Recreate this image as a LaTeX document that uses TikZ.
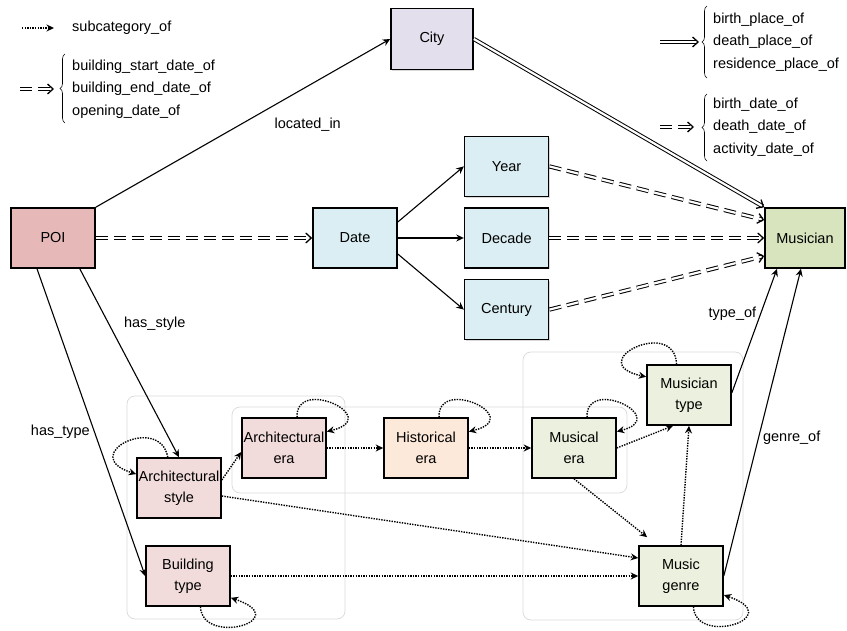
\documentclass[tikz,border=0pt]{standalone}
\usepackage{fontspec}
\setmainfont{Liberation Sans}
\usetikzlibrary{arrows.meta,positioning,shadows,decorations.pathreplacing}

\definecolor{poired}{HTML}{E6B9B8}
\definecolor{citylila}{HTML}{E4DFEC}
\definecolor{dateblue}{HTML}{DAEEF3}
\definecolor{musgreen}{HTML}{D7E4BD}
\definecolor{archpink}{HTML}{F2DCDB}
\definecolor{histpeach}{HTML}{FDE9D9}
\definecolor{musicpale}{HTML}{EBF1DE}

\begin{document}
\begin{tikzpicture}[
  x=1pt, y=-1pt,
  font=\fontsize{14.5}{21}\selectfont,
  >={Stealth[length=7.5pt,width=7pt]},
  box/.style={draw, line width=1.6pt, minimum width=84pt, minimum height=60pt,
              inner sep=1pt, align=center,
              drop shadow={shadow xshift=1.2pt, shadow yshift=-1.2pt, opacity=0.3}},
  rel/.style={->, line width=1.1pt},
  sub/.style={->, line width=1.4pt, dash pattern=on 1.4pt off 1.2pt},
  dbl/.style={double, double distance=2.2pt, line width=1pt,
              -{Straight Barb[length=5.5pt,width=10pt,line width=1.3pt]}},
  dbldash/.style={dbl, dash pattern=on 12pt off 6pt},
  grp/.style={draw=black!15, line width=0.7pt, rounded corners=8pt},
  lbl/.style={inner sep=1pt},
  legend/.style={align=left, anchor=west, inner sep=0pt,
                 font=\fontsize{14.5}{22.5}\selectfont}
]
\useasboundingbox (0,0) rectangle (847,631);

% Groups
\draw[grp] (127,396) rectangle (345,619);
\draw[grp] (232,407) rectangle (627,493);
\draw[grp] (523,352) rectangle (743,620);

% Nodes
\node[box, fill=poired] (poi) at (53,238) {POI};
\node[box, fill=citylila, minimum width=82pt, minimum height=61pt] (city) at (432,39) {City};
\node[box, fill=dateblue] (date) at (355,238) {Date};
\node[box, fill=dateblue, right=66pt of date] (decade) {Decade};
\node[box, fill=dateblue, above=10pt of decade] (year) {Year};
\node[box, fill=dateblue, below=10pt of decade] (century) {Century};
\node[box, fill=musgreen, minimum width=80pt] (musician) at (805,238) {Musician};

\node[box, fill=archpink] (astyle) at (179,488) {Architectural\\style};
\node[box, fill=archpink] (aera) at (284,448) {Architectural\\era};
\node[box, fill=histpeach] (herae) at (426,448) {Historical\\era};
\node[box, fill=musicpale] (muera) at (574,448) {Musical\\era};
\node[box, fill=musicpale] (mutype) at (689,395) {Musician\\type};
\node[box, fill=musicpale] (mugenre) at (681,576) {Music\\genre};
\node[box, fill=archpink] (btype) at (188,576) {Building\\type};

% Relations
\draw[rel] (poi.north east) -- node[lbl, pos=0.72, below=30pt] {located\_in} (city.west);
\draw[rel] ([xshift=-16pt]poi.south east) -- node[lbl, pos=0.29, right=14pt] {has\_style} (astyle.north);
\draw[rel] ([xshift=-16pt]poi.south) -- node[lbl, pos=0.53, left=3pt] {has\_type} (btype.west);

\draw[dbldash] (poi.east) -- (date.west);
\draw[rel] ([yshift=16pt]date.east) -- (year.west);
\draw[rel] (date.east) -- (decade.west);
\draw[rel] ([yshift=-16pt]date.east) -- (century.west);

\draw[dbl] (city.east) -- (musician.north west);
\draw[dbldash] (year.east) -- ([yshift=18pt]musician.west);
\draw[dbldash] (decade.east) -- (musician.west);
\draw[dbldash] (century.east) -- ([yshift=-18pt]musician.west);

\draw[rel] ([yshift=2pt]mutype.east) -- node[lbl, pos=0.64, left=3pt] {type\_of} ([xshift=-28pt]musician.south);
\draw[rel] (mugenre.east) -- node[lbl, pos=0.45, right=3pt] {genre\_of} ([xshift=-4pt]musician.south);

% Subcategories
\draw[sub] ([yshift=8pt]astyle.east) -- ([yshift=-4pt]aera.west);
\draw[sub] (aera.east) -- (herae.west);
\draw[sub] (herae.east) -- (muera.west);
\draw[sub] (muera.east) -- ([xshift=-16pt]mutype.south);
\draw[sub] (muera.south) -- ([xshift=9pt,yshift=8pt]mugenre.north west);
\draw[sub] (mugenre.north) -- (mutype.south);
\draw[sub] ([yshift=-8pt]astyle.east) -- ([yshift=18pt]mugenre.west);
\draw[sub] (btype.east) -- (mugenre.west);

% Self loops
\draw[sub] (astyle.110) .. controls +(-8,-44) and +(-60,-19) .. (astyle.162);
\draw[sub] (aera.67) .. controls +(-2,-41) and +(58,-14) .. (aera.21);
\draw[sub] (herae.67) .. controls +(-2,-41) and +(58,-14) .. (herae.21);
\draw[sub] (muera.67) .. controls +(-2,-41) and +(55,-14) .. (muera.21);
\draw[sub] (mutype.112) .. controls +(-2,-48) and +(-65,-14) .. (mutype.157);
\draw[sub] (mugenre.-68) .. controls +(2,40) and +(65,22) .. (mugenre.-24);
\draw[sub] (btype.-68) .. controls +(2,40) and +(65,22) .. (btype.-27);

% Legend
\coordinate (lgsubA) at (22,28);
\coordinate (lgsubB) at (54,28);
\draw[sub] (lgsubA) -- (lgsubB);
\node[legend] (lgsubtxt) at (72,28) {subcategory\_of};

\coordinate (lgpoiA) at (20,89);
\coordinate (lgpoiB) at (54,89);
\draw[dbldash] (lgpoiA) -- (lgpoiB);
\draw[decorate, decoration={brace, amplitude=5pt}, line width=0.6pt] (65,123) -- (65,54);
\node[legend] (lgpoitxt) at (72,89) {building\_start\_date\_of\\building\_end\_date\_of\\opening\_date\_of};

\coordinate (lgplaceA) at (660,42);
\coordinate (lgplaceB) at (699,42);
\draw[dbl] (lgplaceA) -- (lgplaceB);
\draw[decorate, decoration={brace, amplitude=5pt}, line width=0.6pt] (707,78) -- (707,6);
\node[legend] (lgplacetxt) at (713,42) {birth\_place\_of\\death\_place\_of\\residence\_place\_of};

\coordinate (lgtimeA) at (660,127);
\coordinate (lgtimeB) at (694,127);
\draw[dbldash] (lgtimeA) -- (lgtimeB);
\draw[decorate, decoration={brace, amplitude=5pt}, line width=0.6pt] (707,161) -- (707,94);
\node[legend] (lgtimetxt) at (713,127) {birth\_date\_of\\death\_date\_of\\activity\_date\_of};
\end{tikzpicture}
\end{document}
